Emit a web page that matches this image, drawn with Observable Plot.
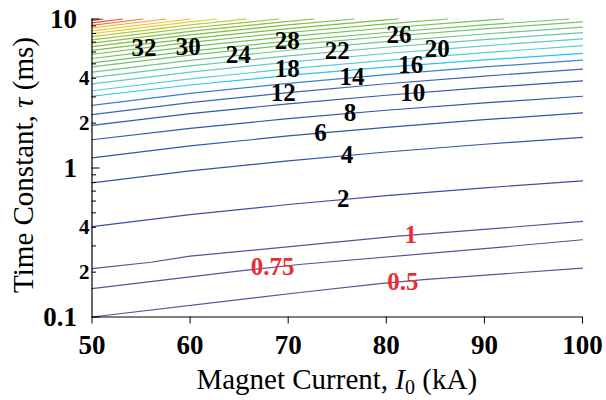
<!DOCTYPE html>
<html>
<head>
<meta charset="utf-8">
<script src="https://cdn.jsdelivr.net/npm/d3@7"></script>
<script src="https://cdn.jsdelivr.net/npm/@observablehq/plot@0.6"></script>
<style>
  html, body { margin: 0; padding: 0; background: #fff; }
  #chart svg { display: block; font-family: "Liberation Serif", "Times New Roman", serif !important; }
  #chart svg text { font-family: "Liberation Serif", "Times New Roman", serif !important; }
</style>
</head>
<body>
<div id="chart"></div>
<script>
// ---------- data ----------
const levels = [0.5, 0.75, 1, 2, 4, 6, 8, 10, 12, 14, 16, 18, 20, 22, 24, 26, 28, 30, 32, 34, 36, 38, 40, 42, 44, 46, 48, 50, 52, 54];

// irregular low-level contours: [current kA, tau ms]
const line_0_5  = [[50, 0.100], [71.2, 0.146], [79.1, 0.167], [83.8, 0.178], [100, 0.213]];
const line_0_75 = [[50, 0.155], [65.1, 0.204], [71.4, 0.226], [90.6, 0.290], [100, 0.330]];
const line_1    = [[50, 0.211], [56.0, 0.233], [60.0, 0.256], [71.2, 0.301], [80.9, 0.348], [90.6, 0.390], [100, 0.438]];

// smooth contours: tau (ms) at these currents (null = above the top edge)
const gridCurrents = [50, 60, 70, 80, 90, 100];
const tau_2  = [0.404, 0.486, 0.569, 0.653, 0.736, 0.820];
const tau_4  = [0.795, 0.956, 1.118, 1.280, 1.443, 1.605];
const tau_6  = [1.171, 1.406, 1.641, 1.876, 2.110, 2.346];
const tau_8  = [1.548, 1.847, 2.145, 2.441, 2.736, 3.030];
const tau_10 = [1.932, 2.315, 2.697, 3.079, 3.460, 3.840];
const tau_12 = [2.281, 2.745, 3.210, 3.676, 4.142, 4.610];
const tau_14 = [2.633, 3.165, 3.698, 4.231, 4.766, 5.300];
const tau_16 = [3.030, 3.607, 4.179, 4.747, 5.313, 5.875];
const tau_18 = [3.30, 3.96, 4.62, 5.28, 5.94, 6.62];
const tau_20 = [3.67, 4.40, 5.14, 5.87, 6.61, 7.35];
const tau_22 = [4.04, 4.84, 5.65, 6.46, 7.27, 8.09];
const tau_24 = [4.40, 5.28, 6.17, 7.05, 7.93, 8.82];
const tau_26 = [4.77, 5.72, 6.68, 7.63, 8.59, 9.56];
const tau_28 = [5.07, 6.09, 7.10, 8.12, 9.13, null];
const tau_30 = [5.43, 6.52, 7.61, 8.70, 9.78, null];
const tau_32 = [5.80, 6.96, 8.12, 9.28, null, null];
const tau_34 = [6.16, 7.39, 8.62, 9.86, null, null];
const tau_36 = [6.52, 7.83, 9.13, null, null, null];
const tau_38 = [6.88, 8.26, 9.64, null, null, null];
const tau_40 = [7.25, 8.70, null, null, null, null];
const tau_42 = [7.61, 9.13, null, null, null, null];
const tau_44 = [7.97, 9.57, null, null, null, null];
const tau_46 = [8.33, null, null, null, null, null];
const tau_48 = [8.70, null, null, null, null, null];
const tau_50 = [9.06, null, null, null, null, null];
const tau_52 = [9.42, null, null, null, null, null];
const tau_54 = [9.78, null, null, null, null, null];
// current (kA) where the contour leaves through the top edge (tau = 10)
const topExitLevels   = [28, 30, 32, 34, 36, 38, 40, 42, 44, 46, 48, 50, 52, 54];
const topExitCurrents = [98.6, 92.0, 86.25, 81.2, 76.7, 72.6, 69.0, 65.7, 62.7, 60.0, 57.5, 55.2, 53.1, 51.1];

// in-line labels
const labelLevels   = [32, 30, 24, 28, 18, 12, 22, 14, 8, 6, 4, 2, 26, 16, 10, 20, 1, 0.75, 0.5];
const labelCurrents = [55.3, 59.8, 64.9, 69.9, 69.9, 69.5, 75.0, 76.5, 76.3, 73.3, 76.0, 75.6, 81.3, 82.5, 82.7, 85.2, 82.5, 68.4, 81.7];
const labelTaus     = [6.41, 6.49, 5.71, 7.09, 4.61, 3.19, 6.06, 4.05, 2.33, 1.72, 1.215, 0.616, 7.76, 4.89, 3.18, 6.25, 0.355, 0.2155, 0.173];

// axes
const xTicks = [50, 60, 70, 80, 90, 100];
const yMajorTicks = [0.1, 1, 10];
const yMinorTicks = [0.2, 0.3, 0.4, 0.5, 0.6, 0.7, 0.8, 0.9, 2, 3, 4, 5, 6, 7, 8, 9];
const yMinorLabels = [0.2, 0.4, 2, 4];

// ---------- build tables ----------
const smoothTaus = {2: tau_2, 4: tau_4, 6: tau_6, 8: tau_8, 10: tau_10, 12: tau_12, 14: tau_14, 16: tau_16,
  18: tau_18, 20: tau_20, 22: tau_22, 24: tau_24, 26: tau_26, 28: tau_28, 30: tau_30, 32: tau_32, 34: tau_34,
  36: tau_36, 38: tau_38, 40: tau_40, 42: tau_42, 44: tau_44, 46: tau_46, 48: tau_48, 50: tau_50, 52: tau_52, 54: tau_54};
const irregular = {0.5: line_0_5, 0.75: line_0_75, 1: line_1};

const lineRows = [];
for (const lv of levels) {
  let pts;
  if (irregular[lv]) pts = irregular[lv];
  else {
    pts = gridCurrents.map((c, j) => [c, smoothTaus[lv][j]]).filter(p => p[1] != null);
    const e = topExitLevels.indexOf(lv);
    if (e >= 0) pts.push([topExitCurrents[e], 10]);
  }
  for (const [I, tau] of pts) lineRows.push({level: lv, I, tau});
}
const labelRows = labelLevels.map((lv, i) => ({level: lv, I: labelCurrents[i], tau: labelTaus[i]}));

// ---------- plot ----------
const W = 606, H = 400;
const mL = 91.5, mR = 24, mT = 18.5, mB = 83.5;
const frameW = W - mL - mR;
const serif = "Liberation Serif";

const chart = Plot.plot({
  width: W,
  height: H,
  marginLeft: mL, marginRight: mR, marginTop: mT, marginBottom: mB,
  style: {background: "#fff", overflow: "visible"},
  x: {domain: [50, 100]},
  y: {type: "log", domain: [0.1, 10]},
  color: {
    type: "linear",
    domain: [0.5, 1, 2, 6, 10, 12, 14, 16, 18, 20, 22, 24, 26, 30, 36, 40, 42, 44, 46, 48, 50, 52, 54],
    range: ["#55519f", "#55519f", "#3d4fa5", "#2f57ac", "#3259aa", "#3766b5", "#3f80cc", "#25c5f3",
            "#55cde0", "#62ccc4", "#68c8a6", "#72c48a", "#78c272", "#74be58", "#7dbd45", "#94c23c",
            "#b5c93a", "#dcd23a", "#f0c238", "#f3a335", "#ef7a33", "#e5502d", "#d8302a"],
    interpolate: "rgb"
  },
  marks: [
    Plot.line(lineRows, {x: "I", y: "tau", z: "level", stroke: "level", strokeWidth: 1.2}),
    Plot.text(labelRows, {
      x: "I", y: "tau",
      text: d => String(d.level),
      fill: d => d.level < 2 ? "#ec2d35" : "#000",
      fontSize: 25, fontWeight: "bold", fontFamily: serif,
      ariaLabel: "contour-labels"
    }),
    // axis lines
    Plot.ruleX([50], {stroke: "#000", strokeWidth: 1.2}),
    Plot.ruleY([0.1], {stroke: "#000", strokeWidth: 1.2}),
    // inward y ticks
    Plot.ruleY(yMajorTicks, {stroke: "#000", insetRight: frameW - 8}),
    Plot.ruleY(yMinorTicks, {stroke: "#000", insetRight: frameW - 4.5}),
    // x axis
    Plot.axisX(xTicks, {tickSize: 7, tickPadding: 11, fontSize: 27, fontWeight: "bold", fontFamily: serif, label: null, stroke: "#000", fill: "#000"}),
    // y axis labels
    Plot.axisY(yMajorTicks, {tickSize: 0, tickPadding: 15, fontSize: 27, fontWeight: "bold", fontFamily: serif, label: null, tickFormat: d => String(d), fill: "#000"}),
    Plot.axisY(yMinorLabels, {tickSize: 0, tickPadding: 2.5, fontSize: 21, fontWeight: "bold", fontFamily: serif, label: null,
      tickFormat: d => d < 1 ? String(Math.round(d * 10)) : String(d), fill: "#000"})
  ]
});

document.getElementById("chart").appendChild(chart);

// white boxes behind the in-line labels
const svg = d3.select(chart);
const labelGroup = svg.select('g[aria-label="contour-labels"]');
labelGroup.selectAll("text").each(function() {
  const b = this.getBBox();
  const padX = 6, padY = 0;
  const t = this.getAttribute("transform");
  const r = document.createElementNS("http://www.w3.org/2000/svg", "rect");
  r.setAttribute("x", b.x - padX);
  r.setAttribute("y", b.y - padY);
  r.setAttribute("width", b.width + 2 * padX);
  r.setAttribute("height", b.height + 2 * padY);
  r.setAttribute("fill", "#fff");
  if (t) r.setAttribute("transform", t);
  this.parentNode.insertBefore(r, this.parentNode.firstChild);
});

// axis titles with italic symbols
const xt = svg.append("text")
  .attr("x", (mL + W - mR) / 2).attr("y", 389)
  .attr("text-anchor", "middle")
  .attr("font-family", serif).attr("font-size", 29).attr("fill", "#000");
xt.append("tspan").text("Magnet Current, ");
xt.append("tspan").attr("font-style", "italic").text("I");
xt.append("tspan").attr("font-size", 20).attr("dy", 5).text("0");
xt.append("tspan").attr("dy", -5).text(" (kA)");

const yt = svg.append("text")
  .attr("transform", "translate(33,165) rotate(-90)")
  .attr("text-anchor", "middle")
  .attr("font-family", serif).attr("font-size", 29).attr("fill", "#000");
yt.append("tspan").text("Time Constant, ");
yt.append("tspan").attr("font-style", "italic").text("τ");
yt.append("tspan").text(" (ms)");
</script>
</body>
</html>
